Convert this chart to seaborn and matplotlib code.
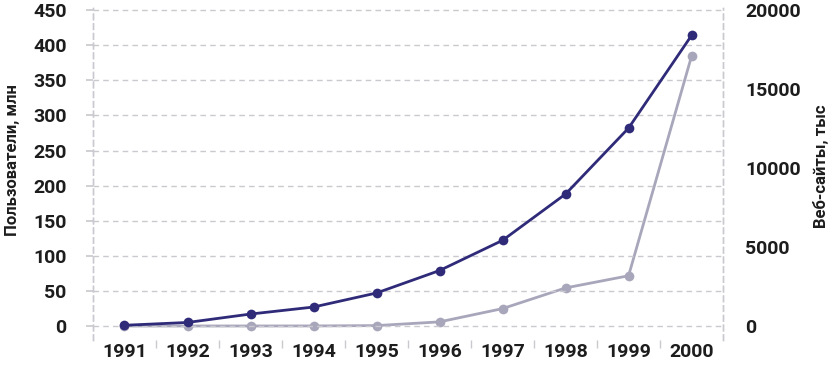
import numpy as np
import pandas as pd
import matplotlib
matplotlib.use('Agg')
import matplotlib.pyplot as plt
import seaborn as sns

years = [1991, 1992, 1993, 1994, 1995, 1996, 1997, 1998, 1999, 2000]
users_mln = [1, 5, 17, 27, 47, 79, 122, 188, 282, 414]
sites_k = [0, 0, 0, 3, 24, 260, 1100, 2410, 3180, 17090]

dark = '#2f2b79'
light = '#a8a6bb'
grid_col = '#c9c9cf'
txt = '#1d1d1d'

sns.set_theme(style='white')
plt.rcParams['font.family'] = ['Roboto', 'DejaVu Sans']
plt.rcParams['font.weight'] = 'bold'
plt.rcParams['axes.labelweight'] = 'bold'

df = pd.DataFrame({'year': years, 'users': users_mln, 'sites': sites_k})

fig = plt.figure(figsize=(8.34, 3.66), dpi=100)
ax = fig.add_axes([0.1115, 0.071, 0.7555, 0.907])
ax2 = ax.twinx()

sns.lineplot(data=df, x='year', y='sites', ax=ax2, color=light, lw=2,
             marker='o', markersize=7, markeredgewidth=0)
sns.lineplot(data=df, x='year', y='users', ax=ax, color=dark, lw=2,
             marker='o', markersize=7, markeredgewidth=0, zorder=5)
ax.set_zorder(ax2.get_zorder() + 1)
ax.patch.set_visible(False)

ax.set_xlim(1990.5, 2000.5)
ax.set_ylim(-20, 453)
ax2.set_ylim(-20 * 20000 / 450, 453 * 20000 / 450)
ax.set_yticks(range(0, 451, 50))
ax2.set_yticks(range(0, 20001, 5000))
ax.set_xticks(years)
ax.set_xticks(np.arange(1991.5, 2000, 1), minor=True)
ax.yaxis.set_minor_locator(matplotlib.ticker.NullLocator())

ax.yaxis.grid(True, color=grid_col, ls=(0, (4, 3)), lw=1)
ax.xaxis.grid(False)
ax2.grid(False)

for a in (ax, ax2):
    for s in ('top', 'bottom'):
        a.spines[s].set_visible(False)
    for s in ('left', 'right'):
        a.spines[s].set_color(grid_col)
        a.spines[s].set_linestyle((0, (4, 3)))
        a.spines[s].set_linewidth(1)

ax.tick_params(axis='x', which='major', length=0, pad=2, labelsize=14, labelcolor=txt)
ax.tick_params(axis='x', which='minor', length=6, width=1, color=grid_col, direction='out', bottom=True)
ax.tick_params(axis='y', length=5, color=grid_col, pad=14, labelsize=14, labelcolor=txt, left=True)
ax2.tick_params(axis='y', length=0, pad=16, labelsize=14, labelcolor=txt, right=True)

ax.set_xlabel('')
ax.set_ylabel('Пользователи, млн', fontsize=12, color=txt)
ax2.set_ylabel('Веб-сайты, тыс', fontsize=12, color=txt)
ax.yaxis.set_label_coords(-0.116, 0.542)
ax2.yaxis.set_label_coords(1.143, 0.524)

fig.savefig('out.png', dpi=100)
